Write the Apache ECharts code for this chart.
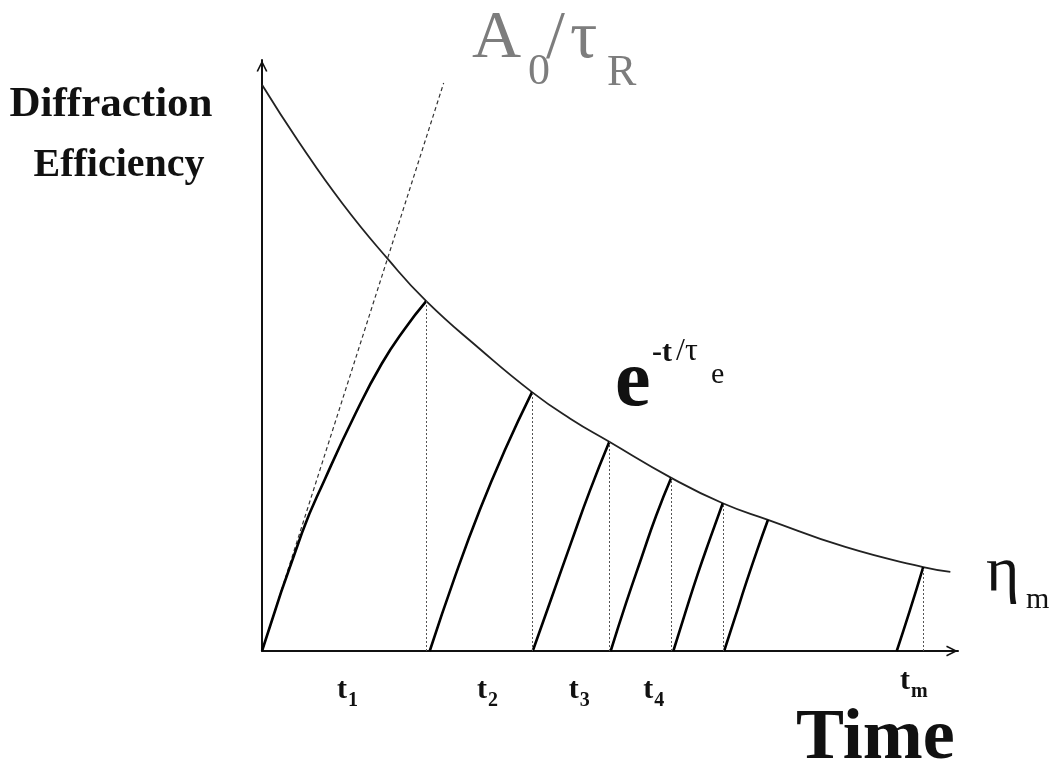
<!DOCTYPE html>
<html>
<head>
<meta charset="utf-8">
<script src="https://cdn.jsdelivr.net/npm/echarts@6/dist/echarts.min.js"></script>
<style>
  html, body { margin: 0; padding: 0; background: #fff; }
  #chart { width: 1058px; height: 776px; }
</style>
</head>
<body>
<div id="chart"></div>
<script>
// Envelope of the recorded efficiency, decaying with the erasure time constant
const decayT   = [0, 5.2, 11.5, 18.1, 23.6, 31.3, 38.8, 44.3, 49.9, 58.8, 66.2, 72.7, 83.8, 95.0, 98.9];
const decayEta = [95.8, 86.3, 75.8, 66.3, 59.2, 51.1, 43.8, 39.3, 35.4, 29.3, 25.0, 22.2, 17.6, 14.2, 13.4];

// Points of the envelope that get a dotted drop line to the time axis
const dropIdx = [4, 6, 8, 9, 10, 13];

// Initial recording slope A0/τR
const slopeT   = [0, 26.1];
const slopeEta = [0, 96.1];

// Successive recording curves, each rising up to the envelope
const growT = [
  [0, 5.75, 9.05, 13.4, 17.2, 20.5, 23.6],
  [24.1, 27.7, 31.3, 34.9, 38.8],
  [38.9, 41.7, 44.4, 47.1, 49.9],
  [50.1, 52.3, 54.5, 56.6, 58.8],
  [59.1, 60.8, 62.6, 64.4, 66.2],
  [66.4, 68.0, 69.5, 71.1, 72.7],
  [91.2, 93.1, 95.0]
];
const growEta = [
  [0, 20.0, 29.1, 40.1, 48.6, 54.5, 59.2],
  [0, 12.5, 23.9, 34.0, 43.8],
  [0, 9.3, 18.3, 27.1, 35.4],
  [0, 8.1, 15.7, 22.8, 29.3],
  [0, 6.4, 13.0, 19.1, 25.0],
  [0, 5.8, 11.3, 16.9, 22.2],
  [0, 6.9, 14.2]
];

// Time-slot labels under the axis: subscript and position along t
const slotSubs = ['1', '2', '3', '4', 'm'];
const slotT    = [11.5, 31.6, 44.8, 55.5, 92.4];

const SERIF = "'Liberation Serif', 'Times New Roman', serif";
const zip = (a, b) => a.map((v, i) => [v, b[i]]);

const chart = echarts.init(document.getElementById('chart'), null, { renderer: 'canvas' });

// open chevron arrow head, pointing up in symbol space
const chevron = 'path://M0,10 L5,0 L10,10 L8.6,10.6 L5,3.2 L1.4,10.6 Z';

const axisCommon = {
  type: 'value', min: 0, max: 100,
  axisTick: { show: false }, axisLabel: { show: false }, splitLine: { show: false },
  axisLine: {
    show: true, onZero: false,
    symbol: ['none', chevron], symbolSize: [11, 14], symbolOffset: [0, -6],
    lineStyle: { color: '#111', width: 2 }
  }
};

const series = [];

series.push({
  type: 'line', name: 'envelope', data: zip(decayT, decayEta),
  smooth: 0.5, showSymbol: false, symbol: 'none',
  lineStyle: { color: '#222', width: 1.8 },
  markLine: {
    silent: true, symbol: ['none', 'none'], label: { show: false },
    lineStyle: { type: [2, 2], color: '#555', width: 1 },
    data: dropIdx.map(i => [{ coord: [decayT[i], 0] }, { coord: [decayT[i], decayEta[i]] }])
  }
});

series.push({
  type: 'line', name: 'slope', data: zip(slopeT, slopeEta),
  showSymbol: false, symbol: 'none',
  lineStyle: { color: '#333', width: 1.2, type: [4, 3] }
});

growT.forEach((ts, k) => {
  series.push({
    type: 'line', name: 'grow' + k, data: zip(ts, growEta[k]),
    smooth: 0.5, showSymbol: false, symbol: 'none',
    lineStyle: { color: '#000', width: 2.6 }
  });
});

chart.setOption({
  animation: false,
  backgroundColor: '#fff',
  grid: { left: 262, top: 60, right: 100, bottom: 125, containLabel: false },
  xAxis: axisCommon,
  yAxis: axisCommon,
  series: series
});

// text pieces: x = left edge, y = vertical middle
function txt(x, y, text, size, weight, color, align) {
  return {
    type: 'text', x: x, y: y, silent: true,
    style: {
      text: text, fill: color || '#111',
      font: (weight || 'normal') + ' ' + size + 'px ' + SERIF,
      align: align || 'left', verticalAlign: 'middle',
      textAlign: align || 'left', textVerticalAlign: 'middle'
    }
  };
}

const gray = '#7d7d7d';
const els = [
  txt(111, 105, 'Diffraction', 43, 'bold', '#111', 'center'),
  txt(119, 166, 'Efficiency', 40, 'bold', '#111', 'center'),
  // A0/τR
  txt(472, 39, 'A', 68, 'normal', gray),
  txt(528, 72, '0', 44, 'normal', gray),
  txt(546, 39, '/', 68, 'normal', gray),
  txt(570, 39, 'τ', 68, 'normal', gray),
  txt(607, 73, 'R', 44, 'normal', gray),
  // e^{-t/τe}
  txt(615, 384, 'e', 80, 'bold'),
  txt(652, 353, '-t', 30, 'bold'),
  txt(676, 352, '/τ', 32, 'normal'),
  txt(711, 375, 'e', 30, 'normal'),
  // ηm
  txt(986, 573, 'η', 64, 'normal'),
  txt(1026, 600, 'm', 30, 'normal'),
  // axis title
  txt(796, 739, 'Time', 72, 'bold')
];

slotT.forEach((t, i) => {
  const px = chart.convertToPixel({ xAxisIndex: 0 }, t);
  const dy = slotSubs[i] === 'm' ? -9 : 0;
  els.push(txt(px - 5, 690 + dy, 't', 30, 'bold'));
  els.push(txt(px + 6, 701 + dy, slotSubs[i], 20, 'bold'));
});

chart.setOption({ graphic: { elements: els } });
</script>
</body>
</html>
